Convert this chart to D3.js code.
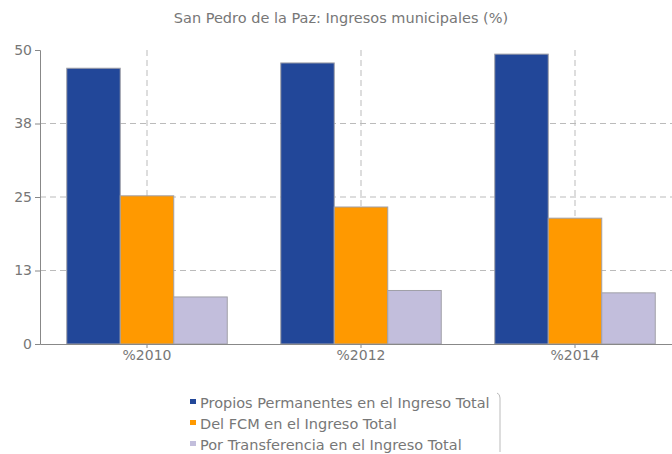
<!DOCTYPE html>
<html>
<head>
<meta charset="utf-8">
<script src="https://cdn.jsdelivr.net/npm/d3@7"></script>
<style>
  body { margin: 0; background: #fff; }
  text { font-family: "DejaVu Sans", Verdana, sans-serif; }
</style>
</head>
<body>
<div id="chart"></div>
<script>
// Chart data
const years = ["%2010", "%2012", "%2014"];
const seriesNames = [
  "Propios Permanentes en el Ingreso Total",
  "Del FCM en el Ingreso Total",
  "Por Transferencia en el Ingreso Total"
];
const propios = [46.9, 47.8, 49.3];
const fcm = [25.2, 23.3, 21.4];
const transferencia = [8.0, 9.1, 8.7];
const tickValues = [0, 12.5, 25, 37.5, 50];
const tickLabels = ["0", "13", "25", "38", "50"];

const colors = ["#224799", "#ff9900", "#c2bedc"];
const allSeries = [propios, fcm, transferencia];

const width = 672, height = 454;
const margin = { top: 50, left: 40 };
const plotBottom = 344;

const svg = d3
  .select("#chart")
  .append("svg")
  .attr("width", width)
  .attr("height", height);

// Title
svg
  .append("text")
  .attr("x", 341)
  .attr("y", 23)
  .attr("text-anchor", "middle")
  .attr("font-size", 14.5)
  .attr("fill", "#777")
  .text("San Pedro de la Paz: Ingresos municipales (%)");

// Scales
const x = d3.scaleBand().domain(years).range([margin.left, margin.left + 642]);
const xInner = d3
  .scaleBand()
  .domain(d3.range(allSeries.length))
  .range([0, x.bandwidth()])
  .paddingOuter(0.5)
  .paddingInner(0);
const y = d3.scaleLinear().domain([0, 50]).range([plotBottom, margin.top]);

// Horizontal gridlines
svg
  .selectAll(".hgrid")
  .data(tickValues.filter((d) => d > 0 && d < 50))
  .enter()
  .append("line")
  .attr("x1", margin.left)
  .attr("x2", width)
  .attr("y1", (d) => y(d))
  .attr("y2", (d) => y(d))
  .attr("stroke", "#bbb")
  .attr("stroke-dasharray", "6,4");

// Vertical gridlines at category centres
svg
  .selectAll(".vgrid")
  .data(years)
  .enter()
  .append("line")
  .attr("x1", (d) => x(d) + x.bandwidth() / 2)
  .attr("x2", (d) => x(d) + x.bandwidth() / 2)
  .attr("y1", y(50))
  .attr("y2", plotBottom)
  .attr("stroke", "#bbb")
  .attr("stroke-dasharray", "6,4");

// Bars
const groups = svg
  .selectAll(".group")
  .data(years)
  .enter()
  .append("g")
  .attr("transform", (d) => "translate(" + x(d) + ",0)");

groups
  .selectAll("rect")
  .data((d, i) => allSeries.map((s, k) => ({ k: k, v: s[i] })))
  .enter()
  .append("rect")
  .attr("x", (d) => xInner(d.k))
  .attr("width", xInner.bandwidth())
  .attr("y", (d) => y(d.v))
  .attr("height", (d) => plotBottom - y(d.v))
  .attr("fill", (d) => colors[d.k])
  .attr("stroke", "#a0a0a8")
  .attr("stroke-width", 1);

// Y axis
const yAxis = svg
  .append("g")
  .attr("transform", "translate(" + margin.left + ",0)")
  .call(
    d3
      .axisLeft(y)
      .tickValues(tickValues)
      .tickFormat((d, i) => tickLabels[i])
      .tickSize(5)
      .tickPadding(3)
  );
yAxis.select(".domain").attr("stroke", "#888");
yAxis.selectAll(".tick line").attr("stroke", "#888");
yAxis.selectAll("text").attr("fill", "#777").attr("font-size", 14);

// X axis
const xAxis = svg
  .append("g")
  .attr("transform", "translate(0," + plotBottom + ")")
  .call(d3.axisBottom(x).tickSize(4).tickPadding(2).tickSizeOuter(0));
xAxis.select(".domain").attr("stroke", "#888");
xAxis.selectAll(".tick line").attr("stroke", "#888");
xAxis.selectAll("text").attr("fill", "#777").attr("font-size", 14);

// Legend
const legend = svg
  .selectAll(".legend")
  .data(seriesNames)
  .enter()
  .append("g")
  .attr("transform", (d, i) => "translate(190," + (403 + i * 21) + ")");

legend
  .append("rect")
  .attr("x", 0)
  .attr("y", -4)
  .attr("width", 6)
  .attr("height", 5)
  .attr("fill", (d, i) => colors[i]);

legend
  .append("text")
  .attr("x", 10)
  .attr("y", 5)
  .attr("font-size", 14.5)
  .attr("fill", "#777")
  .text((d) => d);

svg
  .append("path")
  .attr("d", "M497,393 Q500,394 500,398 L500,452")
  .attr("fill", "none")
  .attr("stroke", "#bbb");
</script>
</body>
</html>
